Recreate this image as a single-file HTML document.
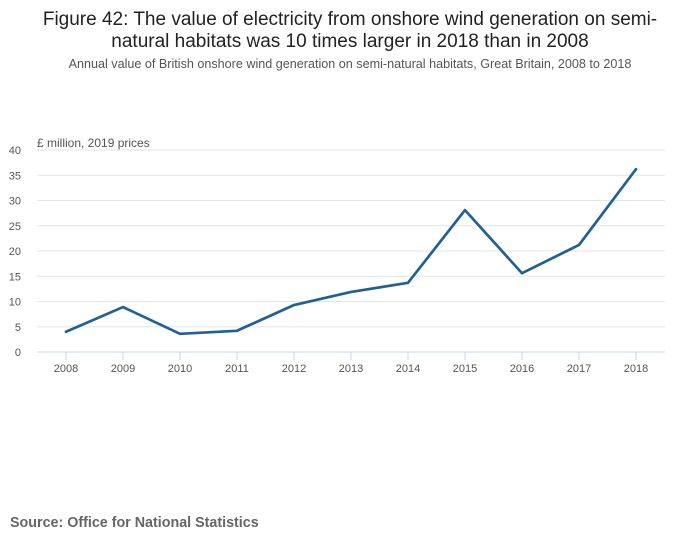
<!DOCTYPE html>
<html><head><meta charset="utf-8"><style>
body{margin:0;background:#fff;font-family:"Liberation Sans",sans-serif;}
#wrap{position:relative;width:700px;height:549px;overflow:hidden;}
</style></head><body>
<div id="wrap">
<svg id="chart" width="700" height="549"></svg>
</div>
<script>
const years=["2008","2009","2010","2011","2012","2013","2014","2015","2016","2017","2018"];
const values=[4.0,8.9,3.6,4.2,9.3,11.9,13.7,28.1,15.6,21.2,36.2];
const yTicks=[0,5,10,15,20,25,30,35,40];
const NS="http://www.w3.org/2000/svg";
const svg=document.getElementById('chart');
const x0=66,xStep=57,yBase=352,yScale=5.05,left=37,right=665;
function xPos(i){return x0+i*xStep;}
function yPos(v){return yBase-v*yScale;}
function mk(tag,attrs,text){const e=document.createElementNS(NS,tag);for(const k in attrs)e.setAttribute(k,attrs[k]);if(text!==undefined)e.textContent=text;svg.appendChild(e);return e;}
let t=mk('text',{x:350,y:25,'text-anchor':'middle','font-size':19,fill:'#222'},'Figure 42: The value of electricity from onshore wind generation on semi-');


t=mk('text',{x:350,y:47,'text-anchor':'middle','font-size':19,fill:'#222'},'natural habitats was 10 times larger in 2018 than in 2008');


t=mk('text',{x:350,y:68,'text-anchor':'middle','font-size':12.6,fill:'#555'},'Annual value of British onshore wind generation on semi-natural habitats, Great Britain, 2008 to 2018');


t=mk('text',{x:37,y:147,'font-size':12,fill:'#555'},'£ million, 2019 prices');


yTicks.forEach(v=>{
  const g=mk('line',{x1:left,x2:right,y1:yPos(v),y2:yPos(v),stroke:v===0?'#ccd6eb':'#e6e6e6','stroke-width':1});
  
  
  const l=mk('text',{x:21,y:yPos(v)+4,'text-anchor':'end','font-size':11,fill:'#555'},String(v));
  
  
});
years.forEach((yr,i)=>{
  const tk=mk('line',{x1:xPos(i),x2:xPos(i),y1:yBase,y2:yBase+8,stroke:'#ccd6eb'});
  
  
  const l=mk('text',{x:xPos(i),y:yBase+20,'text-anchor':'middle','font-size':11,fill:'#555'},yr);
  
  
});
const d=values.map((v,i)=>(i?'L':'M')+xPos(i)+','+yPos(v)).join(' ');
const p=mk('path',{d:d,fill:'none',stroke:'#206095','stroke-width':2.7,'stroke-linejoin':'round','stroke-linecap':'round'});


t=mk('text',{x:10,y:527,'font-size':14.3,'font-weight':'bold',fill:'#666'},'Source: Office for National Statistics');


</script>
</body></html>
